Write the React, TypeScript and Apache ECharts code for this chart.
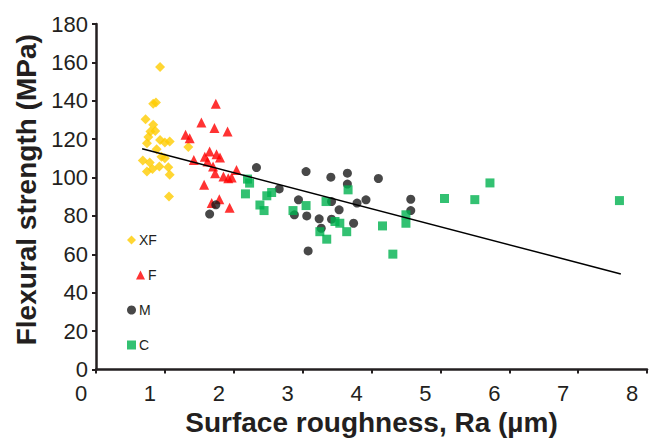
import React, { useEffect, useRef } from "react";
import * as echarts from "echarts";

// Surface roughness Ra (µm) and flexural strength (MPa)
const xfRa = [0.93, 0.83, 0.87, 0.72, 0.83, 0.79, 0.86, 0.76, 0.74, 0.93, 1.0, 1.07, 0.88, 0.95, 1.0, 0.68, 1.34, 0.74, 0.82, 0.92, 1.05, 1.07, 1.06, 0.78];
const xfMPa = [157.6, 138.4, 139.1, 130.4, 127.5, 124.0, 124.3, 121.1, 117.9, 119.6, 118.2, 118.8, 114.8, 110.9, 110.1, 108.9, 115.9, 103.1, 104.4, 105.7, 105.4, 101.4, 90.1, 107.9];

const fRa = [1.74, 1.53, 1.72, 1.91, 1.3, 1.36, 1.42, 1.58, 1.65, 1.75, 1.7, 1.73, 1.85, 1.92, 2.04, 1.57, 1.68, 1.79, 1.94, 1.62, 1.8, 1.97];
const fMPa = [138.4, 128.7, 125.8, 124.0, 122.3, 120.5, 109.2, 110.9, 113.6, 112.2, 105.7, 102.3, 100.5, 99.7, 104.0, 96.2, 86.7, 88.7, 84.3, 108.3, 110.5, 100.0];

const mRa = [2.33, 1.74, 1.65, 2.66, 3.05, 3.41, 2.94, 3.06, 3.24, 3.42, 3.53, 3.27, 3.08, 3.42, 2.88, 3.65, 3.65, 4.1, 3.79, 3.92, 3.74, 4.57, 4.57];
const mMPa = [105.2, 85.8, 81.0, 94.1, 103.1, 100.2, 88.4, 80.0, 78.5, 78.3, 83.2, 73.6, 61.8, 87.5, 80.6, 102.3, 96.6, 99.5, 86.7, 88.4, 76.2, 88.7, 82.8];

const cRa = [2.2, 2.23, 2.17, 2.55, 2.48, 2.38, 2.44, 2.86, 3.05, 3.34, 3.25, 3.35, 3.47, 3.66, 3.54, 3.64, 4.16, 4.31, 4.5, 4.5, 5.06, 5.5, 5.72, 7.6];
const cMPa = [99.2, 97.1, 91.5, 92.2, 90.5, 85.7, 82.8, 82.8, 85.4, 87.5, 71.8, 67.9, 77.1, 93.6, 76.2, 71.8, 74.8, 60.1, 80.6, 76.2, 89.1, 88.5, 97.2, 88.0];

const trendRa = [0.67, 7.62];
const trendMPa = [115.0, 49.8];

const xTicks = [0, 1, 2, 3, 4, 5, 6, 7, 8];
const yTicks = [0, 20, 40, 60, 80, 100, 120, 140, 160, 180];

const groupNames = ["XF", "F", "M", "C"];

const FONT = "'Liberation Sans', Arial, Helvetica, sans-serif";
const INK = "#231f20";

function pairs(xs: number[], ys: number[]) {
  return xs.map((x, i) => [x, ys[i]]);
}

export default function App() {
  const ref = useRef<HTMLDivElement>(null);

  useEffect(() => {
    if (!ref.current) return;
    const chart = echarts.init(ref.current, undefined, { renderer: "svg" });

    const legendPos = [
      { left: 127, top: 233 },
      { left: 136, top: 268 },
      { left: 127, top: 303 },
      { left: 127, top: 338 },
    ];

    chart.setOption({
      animation: false,
      backgroundColor: "#ffffff",
      textStyle: { fontFamily: FONT },
      grid: {
        left: 96,
        right: 2,
        top: 24,
        bottom: 70.5,
        containLabel: false,
        outerBoundsMode: "none",
      },
      legend: groupNames.map((n, i) => ({
        data: [n],
        orient: "vertical",
        left: legendPos[i].left,
        top: legendPos[i].top,
        itemWidth: 9,
        itemHeight: 9,
        itemGap: 0,
        padding: 0,
        textStyle: { fontFamily: FONT, fontSize: 14, color: INK, padding: [0, 0, 0, -2] },
      })),
      xAxis: {
        type: "value",
        min: xTicks[0],
        max: xTicks[xTicks.length - 1],
        interval: 1,
        splitLine: { show: false },
        axisLine: { show: true, lineStyle: { color: INK, width: 2.5 } },
        axisTick: { show: true, length: 4, lineStyle: { color: INK, width: 2 } },
        axisLabel: {
          fontFamily: FONT,
          fontSize: 22,
          lineHeight: 19,
          color: INK,
          margin: 14,
          padding: [0, 30, 0, 0],
        },
        name: "Surface roughness, Ra (µm)",
        nameLocation: "middle",
        nameGap: 36,
        nameTextStyle: { fontFamily: FONT, fontSize: 28, fontWeight: "bold", color: INK },
      },
      yAxis: {
        type: "value",
        min: yTicks[0],
        max: yTicks[yTicks.length - 1],
        interval: 20,
        splitLine: { show: false },
        axisLine: { show: true, lineStyle: { color: INK, width: 2.5 } },
        axisTick: { show: true, length: 4, lineStyle: { color: INK, width: 2 } },
        axisLabel: { fontFamily: FONT, fontSize: 22, lineHeight: 19, color: INK, margin: 8 },
        name: "Flexural strength (MPa)",
        nameLocation: "middle",
        nameGap: 52,
        nameTextStyle: {
          fontFamily: FONT,
          fontSize: 28,
          fontWeight: "bold",
          color: INK,
          padding: [0, 0, 0, 14],
        },
      },
      series: [
        {
          name: "XF",
          type: "scatter",
          symbol: "diamond",
          symbolSize: 10,
          itemStyle: { color: "#ffcc00" },
          data: pairs(xfRa, xfMPa),
        },
        {
          name: "F",
          type: "scatter",
          symbol: "triangle",
          symbolSize: 10,
          itemStyle: { color: "#ff0000" },
          data: pairs(fRa, fMPa),
        },
        {
          name: "M",
          type: "scatter",
          symbol: "circle",
          symbolSize: 9,
          itemStyle: { color: "#1a1a1a" },
          data: pairs(mRa, mMPa),
        },
        {
          name: "C",
          type: "scatter",
          symbol: "rect",
          symbolSize: 9,
          itemStyle: { color: "#00b14f" },
          data: pairs(cRa, cMPa),
        },
        {
          name: "Trend",
          type: "line",
          symbol: "none",
          z: 5,
          lineStyle: { color: "#000000", width: 1.5 },
          data: pairs(trendRa, trendMPa),
        },
      ],
    });

    return () => chart.dispose();
  }, []);

  return (
    <div
      ref={ref}
      style={{ position: "fixed", left: 0, top: 0, width: 649, height: 440 }}
    />
  );
}
